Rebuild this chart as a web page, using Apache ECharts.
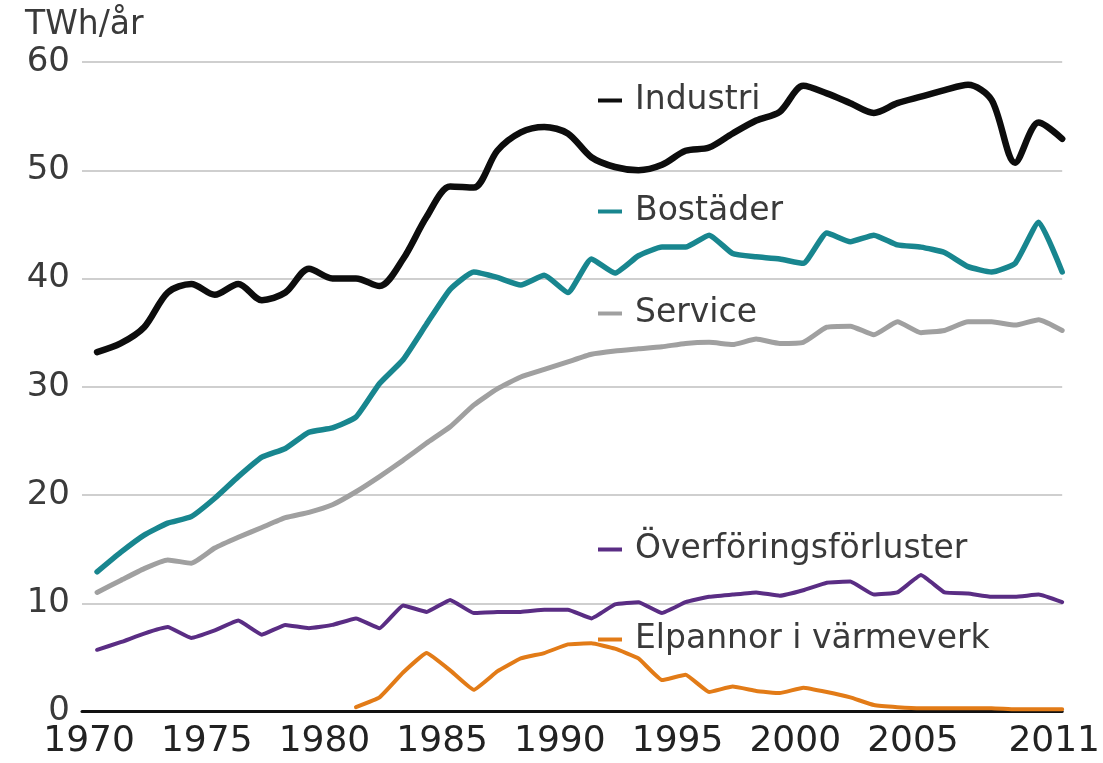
<!DOCTYPE html>
<html>
<head>
<meta charset="utf-8">
<script src="https://cdn.jsdelivr.net/npm/echarts@6/dist/echarts.min.js"></script>
<style>
html,body{margin:0;padding:0;background:#fff;}
#chart{width:1103px;height:763px;}
</style>
</head>
<body>
<div id="chart"></div>
<script>
var years = [1970,1971,1972,1973,1974,1975,1976,1977,1978,1979,
             1980,1981,1982,1983,1984,1985,1986,1987,1988,1989,
             1990,1991,1992,1993,1994,1995,1996,1997,1998,1999,
             2000,2001,2002,2003,2004,2005,2006,2007,2008,2009,
             2010,2011];
var tickYears = [1970,1975,1980,1985,1990,1995,2000,2005,2011];
var yTicks = [0,10,20,30,40,50,60];

var industri = [33.2,34.0,35.5,38.7,39.5,38.5,39.5,38.0,38.7,40.9,
                40.0,40.0,39.3,41.8,45.7,48.5,48.4,51.8,53.5,54.0,
                53.4,51.2,50.3,50.0,50.5,51.8,52.1,53.4,54.6,55.4,
                57.8,57.1,56.2,55.3,56.2,56.8,57.4,57.9,56.5,50.7,
                54.4,52.9];
var bostader = [12.9,14.7,16.3,17.4,18.0,19.7,21.7,23.5,24.3,25.8,
                26.2,27.2,30.3,32.5,35.8,39.0,40.6,40.1,39.4,40.3,
                38.7,41.8,40.5,42.1,42.9,42.9,44.0,42.3,42.0,41.8,
                41.4,44.2,43.4,44.0,43.1,42.9,42.4,41.1,40.6,41.4,
                45.2,40.6];
var service = [11.0,12.1,13.2,14.0,13.7,15.1,16.1,17.0,17.9,18.4,
               19.1,20.3,21.7,23.2,24.8,26.3,28.3,29.8,30.9,31.6,
               32.3,33.0,33.3,33.5,33.7,34.0,34.1,33.9,34.4,34.0,
               34.1,35.5,35.6,34.8,36.0,35.0,35.2,36.0,36.0,35.7,
               36.2,35.2];
var overforing = [5.7,6.4,7.2,7.8,6.8,7.5,8.4,7.1,8.0,7.7,
                  8.0,8.6,7.7,9.8,9.2,10.3,9.1,9.2,9.2,9.4,
                  9.4,8.6,9.9,10.1,9.1,10.1,10.6,10.8,11.0,10.7,
                  11.2,11.9,12.0,10.8,11.0,12.6,11.0,10.9,10.6,10.6,
                  10.8,10.1];
var elpannor = [null,null,null,null,null,null,null,null,null,null,
                null,0.4,1.3,3.6,5.4,3.8,2.0,3.7,4.9,5.4,
                6.2,6.3,5.8,4.9,2.9,3.4,1.8,2.3,1.9,1.7,
                2.2,1.8,1.3,0.6,0.4,0.3,0.3,0.3,0.3,0.2,
                0.2,0.2];

var names = ['Industri','Bostäder','Service','Överföringsförluster','Elpannor i värmeverk'];
var colors = ['#0d0d0d','#18868f','#a0a0a0','#5a2d84','#e27b17'];
var widths = [6.5,5.5,5,4,4];
var smooths = [0.3,0.15,0.15,0.1,0.1];
var legendTops = [84,195,297,533,623];
var seriesValues = [industri,bostader,service,overforing,elpannor];

function pairs(vals){
  return years.map(function(y,i){ return [y, vals[i]]; });
}

var FONT = 'DejaVu Sans';

var chart = echarts.init(document.getElementById('chart'), null, {renderer:'canvas'});
chart.setOption({
  animation:false,
  backgroundColor:'#ffffff',
  title:{
    text:'TWh/år', left:20, top:4,
    textStyle:{fontFamily:FONT, fontSize:33, fontWeight:'normal', color:'#3a3a3a'}
  },
  legend: names.map(function(n,i){
    return {
      data:[n], left:598, top:legendTops[i], padding:0,
      icon:'rect', itemWidth:24, itemHeight:4,
      textStyle:{fontFamily:FONT, fontSize:33, color:'#3a3a3a', padding:[0,0,0,8]}
    };
  }),
  grid:{left:82, right:40, top:62, bottom:51.5, containLabel:false},
  xAxis:{
    type:'value', min:1969.36, max:2011,
    axisLine:{show:true, onZero:false, lineStyle:{color:'#111', width:3}},
    axisTick:{show:false},
    splitLine:{show:false},
    axisLabel:{
      customValues: tickYears,
      margin:12,
      formatter:function(v){ return '{a|' + v + '}'; },
      rich:{a:{fontFamily:FONT, fontSize:36, color:'#222', padding:[0,16,0,0]}}
    }
  },
  yAxis:{
    type:'value', min:0, max:60, interval:10,
    axisLine:{show:false}, axisTick:{show:false},
    splitLine:{lineStyle:{color:'#cfcfcf', width:2}},
    axisLabel:{
      customValues: yTicks,
      margin:12, fontFamily:FONT, fontSize:34, color:'#3a3a3a'
    }
  },
  series: names.map(function(n,i){
    return {
      name:n, type:'line', data:pairs(seriesValues[i]),
      showSymbol:false, symbol:'none', smooth:smooths[i],
      connectNulls:false,
      color:colors[i],
      lineStyle:{color:colors[i], width:widths[i], cap:'round', join:'round'},
      itemStyle:{color:colors[i]},
      z: 10 - i
    };
  })
});
</script>
</body>
</html>
